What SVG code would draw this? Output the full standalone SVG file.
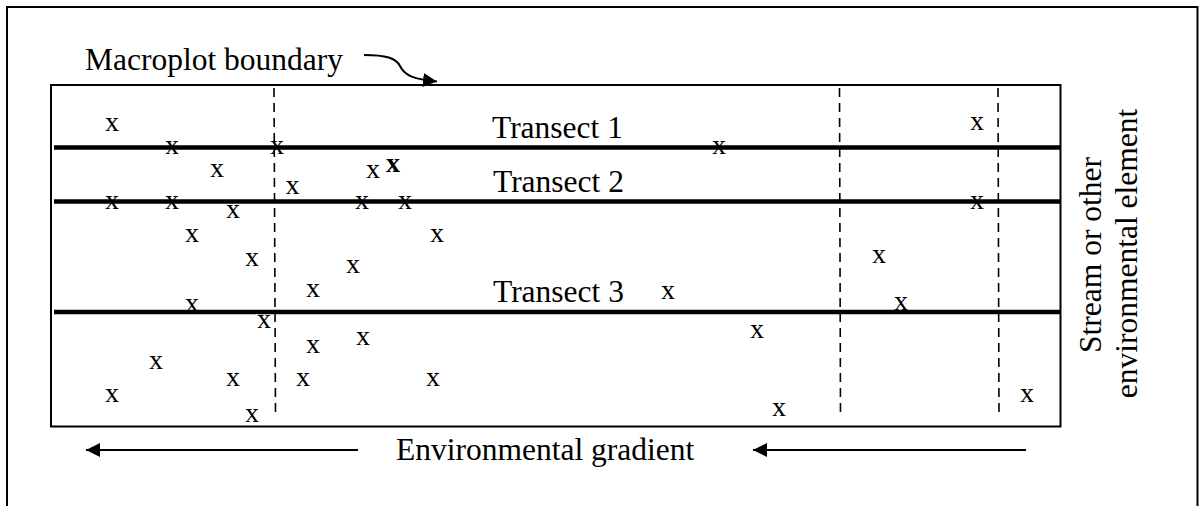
<svg xmlns="http://www.w3.org/2000/svg" width="1199" height="506" viewBox="0 0 1199 506">
<defs>
<style>
.lbl{font-family:"Liberation Serif","Times New Roman",serif;font-size:31.5px;fill:#000}
.pt{font-family:"Liberation Serif","Times New Roman",serif;font-size:28px;fill:#000;text-anchor:middle}
.bold{font-weight:bold}
.transect{stroke:#000;stroke-width:4.5;fill:none}
.dash{stroke:#000;stroke-width:1.6;stroke-dasharray:9 6;fill:none}
.conn{stroke:#000;stroke-width:2;fill:none}
</style>
<marker id="ah" markerWidth="14" markerHeight="14" viewBox="0 0 14 14" refX="14" refY="7" orient="auto" markerUnits="userSpaceOnUse">
<path d="M0,0 L14,7 L0,14 Z" fill="#000"/>
</marker>
</defs>
<rect x="0" y="0" width="1199" height="506" fill="#fff"/>
<g id="frame">
<path d="M7,506 L7,7 L1197.5,7 L1197.5,506" fill="none" stroke="#000" stroke-width="2"/>
</g>
<g id="macroplot">
<rect x="51" y="85" width="1009.5" height="341.5" fill="none" stroke="#000" stroke-width="2"/>
<line class="dash" x1="274" y1="88" x2="275.5" y2="415"/>
<line class="dash" x1="839.5" y1="88" x2="840.5" y2="416"/>
<line class="dash" x1="998" y1="88" x2="999" y2="416"/>
</g>
<g id="transect1">
<line class="transect" x1="54" y1="147.5" x2="1060" y2="147.5"/>
<text class="lbl" x="492" y="137.5">Transect 1</text>
</g>
<g id="transect2">
<line class="transect" x1="54" y1="201.5" x2="1060" y2="201.5"/>
<text class="lbl" x="493" y="191.5">Transect 2</text>
</g>
<g id="transect3">
<line class="transect" x1="54" y1="312" x2="1060" y2="312"/>
<text class="lbl" x="493" y="301.5">Transect 3</text>
</g>
<g id="points">
<text class="pt" x="112" y="130.5">x</text>
<text class="pt" x="172" y="153.5">x</text>
<text class="pt" x="277" y="153.5">x</text>
<text class="pt" x="719" y="153.5">x</text>
<text class="pt" x="977" y="129.5">x</text>
<text class="pt" x="217" y="177">x</text>
<text class="pt" x="373" y="177.5">x</text>
<text class="pt bold" x="393" y="171.5">x</text>
<text class="pt" x="292.5" y="194">x</text>
<text class="pt" x="112" y="208.5">x</text>
<text class="pt" x="172" y="208.5">x</text>
<text class="pt" x="233" y="217.5">x</text>
<text class="pt" x="362" y="208.5">x</text>
<text class="pt" x="405" y="208.5">x</text>
<text class="pt" x="977" y="208.5">x</text>
<text class="pt" x="192" y="241.5">x</text>
<text class="pt" x="437" y="241.5">x</text>
<text class="pt" x="252" y="265.5">x</text>
<text class="pt" x="353" y="273">x</text>
<text class="pt" x="879" y="262.5">x</text>
<text class="pt" x="313" y="297">x</text>
<text class="pt" x="668" y="298.5">x</text>
<text class="pt" x="192" y="311.5">x</text>
<text class="pt" x="264" y="327.5">x</text>
<text class="pt" x="901" y="310">x</text>
<text class="pt" x="757" y="337.5">x</text>
<text class="pt" x="313" y="352.5">x</text>
<text class="pt" x="363" y="345">x</text>
<text class="pt" x="156" y="369">x</text>
<text class="pt" x="233" y="385.5">x</text>
<text class="pt" x="303" y="385.5">x</text>
<text class="pt" x="433" y="385.5">x</text>
<text class="pt" x="112" y="401.5">x</text>
<text class="pt" x="1027" y="401.5">x</text>
<text class="pt" x="252" y="422">x</text>
<text class="pt" x="779" y="416">x</text>
</g>
<g id="macroplot-label">
<text class="lbl" x="85" y="69.5">Macroplot boundary</text>
</g>
<g id="gradient-label">
<text class="lbl" x="396" y="459.5">Environmental gradient</text>
</g>
<g id="stream-label">
<text class="lbl" text-anchor="middle" transform="translate(1101,255) rotate(-90)">Stream or other</text>
<text class="lbl" text-anchor="middle" transform="translate(1137,253.5) rotate(-90)">environmental element</text>
</g>
<g id="connectors">
<path class="conn" d="M364,55 C386,55 396,58 400,66 C405,76 414,79 437,81.5" marker-end="url(#ah)"/>
<line class="conn" x1="358" y1="450" x2="86" y2="450" marker-end="url(#ah)"/>
<line class="conn" x1="1026" y1="450" x2="753" y2="450" marker-end="url(#ah)"/>
</g>
</svg>
